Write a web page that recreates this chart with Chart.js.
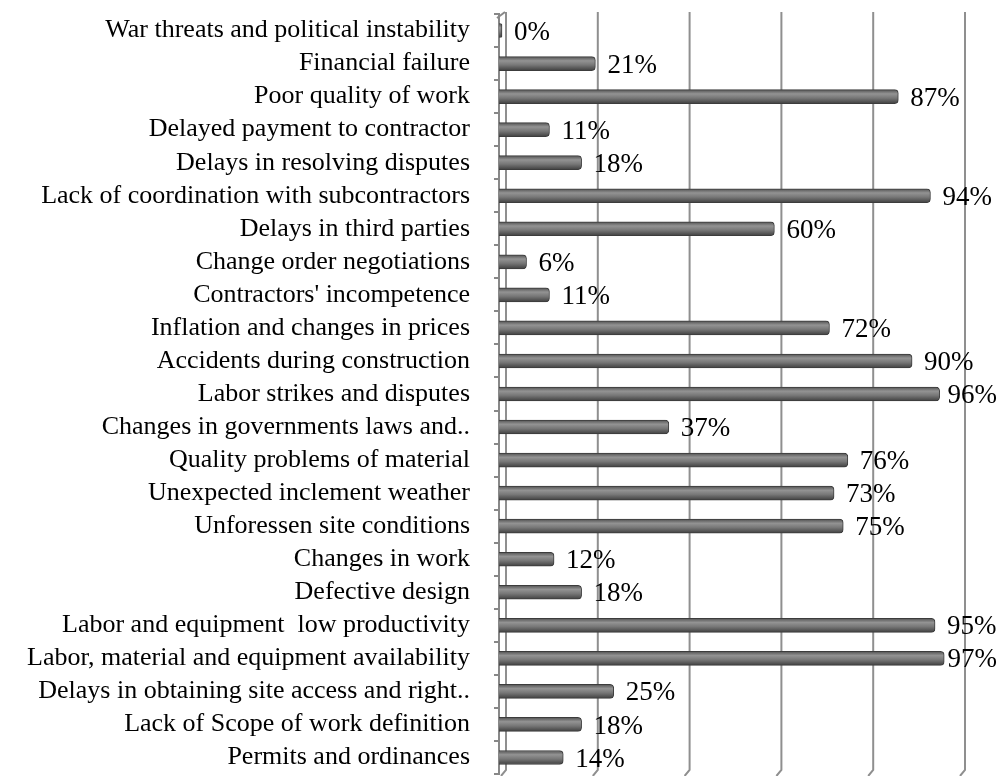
<!DOCTYPE html>
<html>
<head>
<meta charset="utf-8">
<script src="https://cdn.jsdelivr.net/npm/chart.js@4.4.1/dist/chart.umd.min.js"></script>
<style>
	body { margin: 0; background: #fff; }
	#wrap { width: 1000px; height: 776px; }
</style>
</head>
<body>
<div id="wrap"><canvas id="riskChart" width="1000" height="776"></canvas></div>

<script>
	const factors = [
		"War threats and political instability",
		"Financial failure",
		"Poor quality of work",
		"Delayed payment to contractor",
		"Delays in resolving disputes",
		"Lack of coordination with subcontractors",
		"Delays in third parties",
		"Change order negotiations",
		"Contractors' incompetence",
		"Inflation and changes in prices",
		"Accidents during construction",
		"Labor strikes and disputes",
		"Changes in governments laws and..",
		"Quality problems of material",
		"Unexpected inclement weather",
		"Unforessen site conditions",
		"Changes in work",
		"Defective design",
		"Labor and equipment  low productivity",
		"Labor, material and equipment availability",
		"Delays in obtaining site access and right..",
		"Lack of Scope of work definition",
		"Permits and ordinances"
	];
	const percents = [0, 21, 87, 11, 18, 94, 60, 6, 11, 72, 90, 96, 37, 76, 73, 75, 12, 18, 95, 97, 25, 18, 14];
	const gridSteps = [0, 20, 40, 60, 80, 100];

	const SERIF = '"Liberation Serif", "Times New Roman", serif';

	// cylinder-like shading for each bar
	function barFill(ctx) {
		const chart = ctx.chart;
		const yScale = chart.scales.y;
		if (!yScale || !chart.chartArea || ctx.dataIndex === undefined) return '#747474';
		const y = yScale.getPixelForValue(ctx.dataIndex);
		const g = chart.ctx.createLinearGradient(0, y - 7, 0, y + 7);
		g.addColorStop(0, '#525252');
		g.addColorStop(0.3, '#939393');
		g.addColorStop(0.6, '#777');
		g.addColorStop(1, '#404040');
		return g;
	}

	// back wall grid lines, drawn a little to the right like a 3D chart
	const backWall = {
		id: 'backWall',
		beforeDatasetsDraw(chart) {
			const c = chart.ctx;
			const x = chart.scales.x;
			const a = chart.chartArea;
			c.save();
			c.strokeStyle = '#8f8f8f';
			c.lineWidth = 2;
			gridSteps.forEach(v => {
				const px = x.getPixelForValue(v) + 7;
				c.beginPath();
				c.moveTo(px, a.top - 2);
				c.lineTo(px, a.bottom - 4);
				c.lineTo(px - 5, a.bottom + 2);
				c.stroke();
			});
			// corner joining front axis with the back wall
			c.strokeStyle = '#888';
			c.beginPath();
			c.moveTo(a.left - 2, a.top + 4);
			c.lineTo(a.left + 6, a.top - 2);
			c.stroke();
			c.restore();
		}
	};

	// percentage labels after each bar
	const valueLabels = {
		id: 'valueLabels',
		afterDatasetsDraw(chart) {
			const c = chart.ctx;
			const meta = chart.getDatasetMeta(0);
			c.save();
			c.font = '27px ' + SERIF;
			c.fillStyle = '#000';
			c.textBaseline = 'middle';
			meta.data.forEach((bar, i) => {
				const text = percents[i] + '%';
				const w = c.measureText(text).width;
				let tx = bar.x + 12;
				if (tx + w > chart.width - 3) tx = chart.width - 3 - w;
				c.fillText(text, tx, bar.y + 2);
			});
			c.restore();
		}
	};

	const riskChart = new Chart(document.getElementById('riskChart'), {
		type: 'bar',
		data: {
			labels: factors,
			datasets: [{
				data: percents,
				backgroundColor: barFill,
				borderColor: '#3c3c3c',
				borderWidth: 1,
				borderSkipped: 'start',
				borderRadius: { topRight: 4, bottomRight: 4 },
				barThickness: 14,
				minBarLength: 3
			}]
		},
		options: {
			indexAxis: 'y',
			responsive: false,
			animation: false,
			layout: { padding: { top: 14, bottom: 2, right: 42, left: 0 } },
			plugins: {
				legend: { display: false },
				tooltip: { enabled: false }
			},
			scales: {
				x: {
					display: false,
					min: 0,
					max: 100
				},
				y: {
					afterFit: (scale) => {
						scale.width = 499;
						scale.paddingTop = 0;
						scale.paddingBottom = 0;
					},
					border: { color: '#888', width: 2 },
					grid: { drawOnChartArea: false, tickLength: 5, color: '#888', lineWidth: 2 },
					ticks: {
						autoSkip: false,
						padding: 24,
						color: '#000',
						font: { family: SERIF, size: 26 }
					}
				}
			}
		},
		plugins: [backWall, valueLabels]
	});
</script>
</body>
</html>
